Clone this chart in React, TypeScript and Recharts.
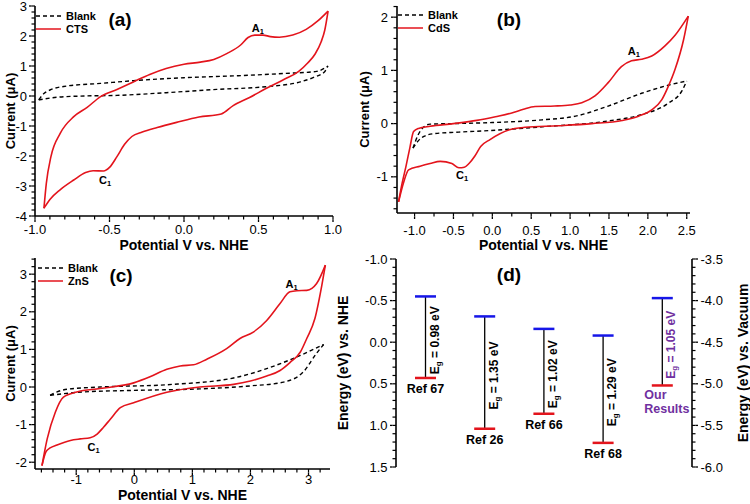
import React from "react";
import { ComposedChart, Line, Bar, XAxis, YAxis, Legend, ReferenceDot } from "recharts";

const FONT = '"Liberation Sans", Arial, Helvetica, sans-serif';
const RED = "#e3141c";
const BLUE = "#1616e8";
const PURPLE = "#7030a0";
const TICK = 3.5; // minor tick length
const MAJOR_EXTRA = 2.5; // majors are this much longer

type Pt = [number, number];

// ---- (a) CTS, potential (V) / current (uA)
const ctsForward: Pt[] = [
  [-0.94, -3.74], [-0.924, -2.91], [-0.893, -2.02], [-0.83, -1.24], [-0.74, -0.69], [-0.65, -0.38],
  [-0.56, -0.02], [-0.45, 0.22], [-0.34, 0.47], [-0.23, 0.72], [-0.12, 0.92], [0.0, 1.06], [0.11, 1.13],
  [0.2, 1.22], [0.29, 1.42], [0.38, 1.7], [0.43, 1.95], [0.475, 2.03], [0.53, 2.03], [0.58, 1.98],
  [0.64, 1.96], [0.73, 2.03], [0.82, 2.22], [0.9, 2.51], [0.967, 2.83],
];
const ctsReverse: Pt[] = [
  [-0.94, -3.74], [-0.9, -3.45], [-0.83, -3.12], [-0.74, -2.8], [-0.66, -2.55], [-0.61, -2.49],
  [-0.54, -2.5], [-0.5, -2.38], [-0.45, -2.02], [-0.4, -1.62], [-0.35, -1.35], [-0.28, -1.2],
  [-0.18, -1.05], [-0.05, -0.88], [0.1, -0.7], [0.25, -0.6], [0.33, -0.32], [0.44, -0.05], [0.55, 0.25],
  [0.67, 0.55], [0.77, 0.82], [0.83, 1.1], [0.88, 1.4], [0.92, 1.8], [0.945, 2.2], [0.967, 2.83],
];
const blankAForward: Pt[] = [
  [-0.975, -0.13], [-0.94, 0.08], [-0.9, 0.2], [-0.79, 0.33], [-0.56, 0.42], [-0.34, 0.51], [0.0, 0.61],
  [0.33, 0.67], [0.67, 0.75], [0.89, 0.82], [0.966, 1.0],
];
const blankAReverse: Pt[] = [
  [-0.975, -0.13], [-0.94, -0.1], [-0.85, -0.04], [-0.67, 0.0], [-0.45, 0.02], [-0.12, 0.11], [0.22, 0.22],
  [0.55, 0.31], [0.78, 0.47], [0.87, 0.62], [0.944, 0.81], [0.966, 1.0],
];

// ---- (b) CdS
const cdsForward: Pt[] = [
  [-1.206, -1.47], [-1.16, -1.12], [-1.11, -0.8], [-1.06, -0.45], [-1.013, -0.15], [-0.95, -0.09],
  [-0.8, -0.05], [-0.5, 0.0], [-0.2, 0.06], [0.04, 0.13], [0.25, 0.2], [0.4, 0.27], [0.55, 0.32],
  [0.8, 0.33], [1.0, 0.35], [1.15, 0.39], [1.32, 0.52], [1.49, 0.77], [1.66, 1.07], [1.79, 1.18],
  [1.92, 1.21], [2.05, 1.27], [2.22, 1.46], [2.35, 1.66], [2.52, 2.02],
];
const cdsReverse: Pt[] = [
  [-1.206, -1.47], [-1.14, -1.1], [-1.077, -0.87], [-0.93, -0.8], [-0.8, -0.75], [-0.67, -0.71],
  [-0.52, -0.75], [-0.43, -0.83], [-0.36, -0.82], [-0.3, -0.75], [-0.22, -0.6], [-0.15, -0.43],
  [-0.03, -0.3], [0.21, -0.12], [0.42, -0.07], [0.85, -0.04], [1.28, 0.0], [1.67, 0.06], [1.88, 0.14],
  [2.05, 0.26], [2.18, 0.45], [2.26, 0.69], [2.35, 1.02], [2.46, 1.58], [2.52, 2.02],
];
const blankBForward: Pt[] = [
  [-1.02, -0.46], [-0.95, -0.2], [-0.88, -0.06], [-0.8, -0.01], [-0.5, 0.0], [0.0, 0.02], [0.64, 0.07],
  [1.07, 0.14], [1.49, 0.33], [1.92, 0.57], [2.26, 0.72], [2.5, 0.8],
];
const blankBReverse: Pt[] = [
  [-1.02, -0.46], [-0.95, -0.32], [-0.88, -0.24], [-0.76, -0.19], [-0.43, -0.16], [-0.03, -0.13],
  [0.64, -0.06], [1.49, 0.05], [1.92, 0.17], [2.26, 0.38], [2.44, 0.62], [2.5, 0.8],
];

// ---- (c) ZnS
const znsForward: Pt[] = [
  [-1.59, -2.09], [-1.5, -1.38], [-1.36, -0.67], [-1.22, -0.27], [-0.99, -0.13], [-0.59, -0.04],
  [-0.01, 0.11], [0.27, 0.27], [0.56, 0.47], [0.79, 0.56], [1.02, 0.59], [1.25, 0.74], [1.59, 1.02],
  [1.82, 1.29], [2.05, 1.46], [2.28, 1.77], [2.51, 2.22], [2.68, 2.53], [2.8, 2.56], [2.97, 2.57],
  [3.14, 2.75], [3.29, 3.24],
];
const znsReverse: Pt[] = [
  [-1.59, -2.09], [-1.52, -1.72], [-1.45, -1.62], [-1.33, -1.54], [-1.1, -1.42], [-0.93, -1.38],
  [-0.76, -1.35], [-0.64, -1.25], [-0.53, -1.07], [-0.41, -0.85], [-0.24, -0.55], [-0.01, -0.42],
  [0.56, -0.14], [1.13, 0.0], [1.71, 0.07], [2.0, 0.16], [2.28, 0.29], [2.51, 0.44], [2.68, 0.65],
  [2.86, 0.93], [2.97, 1.29], [3.11, 1.82], [3.23, 2.71], [3.29, 3.24],
];
const blankCForward: Pt[] = [
  [-1.45, -0.22], [-1.33, -0.13], [-1.16, -0.06], [-0.59, 0.0], [0.56, 0.06], [1.71, 0.24], [2.28, 0.49],
  [2.86, 0.84], [3.26, 1.13],
];
const blankCReverse: Pt[] = [
  [-1.45, -0.22], [-0.87, -0.13], [-0.01, -0.09], [1.13, -0.05], [2.0, 0.03], [2.57, 0.13], [2.91, 0.4],
  [3.14, 0.9], [3.26, 1.13],
];

// ---- tick labels
const aXTicks = [-1, -0.5, 0, 0.5, 1];
const aYTicks = [-4, -3, -2, -1, 0, 1, 2, 3];
const bXTicks = [-1, -0.5, 0, 0.5, 1, 1.5, 2, 2.5];
const bYTicks = [-1, 0, 1, 2];
const cXTicks = [-1, 0, 1, 2, 3];
const cYTicks = [-2, -1, 0, 1, 2, 3];
const dNheTicks = [-1, -0.5, 0, 0.5, 1, 1.5];
const dVacTicks = [-6, -5.5, -5, -4.5, -4, -3.5];

// ---- (d) band positions vs NHE
const refNames = ["Ref 67", "Ref 26", "Ref 66", "Ref 68", "Our Results"];
const cbNhe = [-0.55, -0.31, -0.16, -0.08, -0.53];
const vbNhe = [0.43, 1.04, 0.86, 1.21, 0.52];
const gapLabels = ["0.98", "1.35", "1.02", "1.29", "1.05"];

const bandRows = refNames.map((name, i) => ({
  name,
  cb: cbNhe[i],
  vb: vbNhe[i],
  eg: gapLabels[i],
  ours: i === refNames.length - 1,
}));

const rows = (pts: Pt[]) => pts.map(([x, y]) => ({ x, y }));

function withMinors(majors: number[], domain: [number, number], step: number) {
  const out = [...majors];
  const start = Math.ceil(domain[0] / step - 1e-9) * step;
  for (let v = start; v <= domain[1] + 1e-9; v += step) {
    const r = +v.toFixed(4);
    if (!out.some((m) => Math.abs(m - r) < 1e-6)) out.push(r);
  }
  return out.sort((p, q) => p - q);
}

const oneDec = (v: number) => v.toFixed(1);
const whole = (v: number) => String(v);

// tick props arrive at the end of the built-in (minor-length) tick line;
// majors get an extension plus their label
function tickFn(side: "bottom" | "left" | "right", majors: number[], fmt: (v: number) => string, gap: number) {
  return (props: any) => {
    const x = Number(props.x);
    const y = Number(props.y);
    const v = Number(props.payload.value);
    const major = majors.some((m) => Math.abs(m - v) < 1e-6);
    if (!major) return <g />;
    const label = fmt(v);
    if (side === "bottom") {
      return (
        <g>
          <line x1={x} y1={y} x2={x} y2={y + MAJOR_EXTRA} stroke="#000" strokeWidth={1.3} />
          <text x={x} y={y - TICK + gap} textAnchor="middle" dominantBaseline="central" fontSize={13} fontFamily={FONT} fill="#000">
            {label}
          </text>
        </g>
      );
    }
    const dir = side === "left" ? -1 : 1;
    return (
      <g>
        <line x1={x} y1={y} x2={x + dir * MAJOR_EXTRA} y2={y} stroke="#000" strokeWidth={1.3} />
        <text x={x - dir * TICK + dir * gap} y={y} textAnchor={side === "left" ? "end" : "start"} dominantBaseline="central" fontSize={13} fontFamily={FONT} fill="#000">
          {label}
        </text>
      </g>
    );
  };
}

const xTitle = (text: string, gap: number) => (p: any) => {
  const vb = p.viewBox;
  return (
    <text x={vb.x + vb.width / 2} y={vb.y + gap} textAnchor="middle" dominantBaseline="central" fontSize={14} fontWeight={700} fontFamily={FONT} fill="#000">
      {text}
    </text>
  );
};

const yTitle = (text: string, dx: number, size = 13) => (p: any) => {
  const vb = p.viewBox;
  const cx = vb.x + dx;
  const cy = vb.y + vb.height / 2;
  return (
    <text transform={`translate(${cx},${cy}) rotate(-90)`} textAnchor="middle" dominantBaseline="central" fontSize={size} fontWeight={700} fontFamily={FONT} fill="#000">
      {text}
    </text>
  );
};

const peakShape = (main: string, sub: string) => (p: any) => (
  <text x={p.cx} y={p.cy} textAnchor="middle" dominantBaseline="central" fontSize={11} fontWeight={700} fontFamily={FONT} fill="#000">
    {main}
    <tspan fontSize={7.5} dy={3}>{sub}</tspan>
  </text>
);

const renderLegend = (props: any) => {
  const items = (props.payload || []).filter((it: any) => it.type !== "none");
  return (
    <div style={{ fontFamily: FONT, fontSize: 11, fontWeight: 700, lineHeight: "12.5px", color: "#000" }}>
      {items.map((it: any) => (
        <div key={it.value} style={{ display: "flex", alignItems: "center", height: 12.5 }}>
          <svg width={25} height={12}>
            <line x1={0} y1={6} x2={25} y2={6} stroke={it.color} strokeWidth={1.5} strokeDasharray={it.payload?.strokeDasharray} />
          </svg>
          <span style={{ marginLeft: 5 }}>{it.value}</span>
        </div>
      ))}
    </div>
  );
};

const tickLineStyle = { stroke: "#000", strokeWidth: 1.2 };
const frameStyle = { stroke: "#000", strokeWidth: 1.6 };

interface Note { x: number; y: number; main: string; sub: string }

interface CvProps {
  left: number; top: number; width: number; height: number;
  margin: { top: number; right: number; bottom: number; left: number };
  yAxisWidth: number; xAxisHeight: number;
  xDomain: [number, number]; yDomain: [number, number];
  xMajor: number[]; xStep: number; yMajor: number[]; yStep: number;
  xFmt: (v: number) => string; yFmt: (v: number) => string;
  blank: [Pt[], Pt[]]; sample: [Pt[], Pt[]]; sampleName: string;
  notes: Note[]; legendAt: { left: number; top: number };
  xTickGap: number; xTitleGap: number; yTickGap: number; yTitleX: number;
}

function CvPanel(p: CvProps) {
  return (
    <div style={{ position: "absolute", left: p.left, top: p.top }}>
      <ComposedChart width={p.width} height={p.height} margin={p.margin}>
        <XAxis
          dataKey="x" type="number" domain={p.xDomain} allowDataOverflow
          ticks={withMinors(p.xMajor, p.xDomain, p.xStep)} interval={0}
          tickSize={TICK} tickMargin={0} tickLine={tickLineStyle}
          tick={tickFn("bottom", p.xMajor, p.xFmt, p.xTickGap)}
          axisLine={frameStyle}
          height={p.xAxisHeight}
          label={xTitle("Potential V vs. NHE", p.xTitleGap)}
        />
        <XAxis xAxisId="frame" orientation="top" type="number" domain={p.xDomain} allowDataOverflow height={0} tick={false} tickLine={false} axisLine={frameStyle} />
        <YAxis
          type="number" domain={p.yDomain} allowDataOverflow
          ticks={withMinors(p.yMajor, p.yDomain, p.yStep)} interval={0}
          tickSize={TICK} tickMargin={0} tickLine={tickLineStyle}
          tick={tickFn("left", p.yMajor, p.yFmt, p.yTickGap)}
          axisLine={frameStyle}
          width={p.yAxisWidth}
          label={yTitle("Current (\u03bcA)", p.yTitleX)}
        />
        <YAxis yAxisId="frame" orientation="right" type="number" domain={p.yDomain} allowDataOverflow width={0} tick={false} tickLine={false} axisLine={frameStyle} />
        <Line data={rows(p.blank[0])} dataKey="y" name="Blank" type="monotone" stroke="#000" strokeWidth={1.4} strokeDasharray="4 3" dot={false} activeDot={false} isAnimationActive={false} />
        <Line data={rows(p.blank[1])} dataKey="y" name="Blank (return)" legendType="none" type="monotone" stroke="#000" strokeWidth={1.4} strokeDasharray="4 3" dot={false} activeDot={false} isAnimationActive={false} />
        <Line data={rows(p.sample[0])} dataKey="y" name={p.sampleName} type="monotone" stroke={RED} strokeWidth={1.6} dot={false} activeDot={false} isAnimationActive={false} />
        <Line data={rows(p.sample[1])} dataKey="y" name={`${p.sampleName} (return)`} legendType="none" type="monotone" stroke={RED} strokeWidth={1.6} dot={false} activeDot={false} isAnimationActive={false} />
        {p.notes.map((n) => (
          <ReferenceDot key={n.main + n.x} x={n.x} y={n.y} r={0} shape={peakShape(n.main, n.sub)} />
        ))}
        <Legend content={renderLegend} layout="vertical" align="center" verticalAlign="middle" wrapperStyle={{ left: p.legendAt.left, top: p.legendAt.top, width: "auto", height: "auto" }} />
      </ComposedChart>
    </div>
  );
}

const BandShape = (props: any) => {
  const { x, y, width, height, payload } = props;
  if (x == null || y == null) return null;
  const cx = x + width / 2;
  const top = Math.min(y, y + height);
  const bot = Math.max(y, y + height);
  const mid = (top + bot) / 2;
  const tone = payload.ours ? PURPLE : "#000";
  return (
    <g fontFamily={FONT} fontWeight={700}>
      <line x1={cx} y1={top} x2={cx} y2={bot} stroke="#000" strokeWidth={1.3} />
      <line x1={x} y1={top} x2={x + width} y2={top} stroke={BLUE} strokeWidth={2.5} />
      <line x1={x} y1={bot} x2={x + width} y2={bot} stroke={RED} strokeWidth={2.5} />
      <text transform={`translate(${cx + 9},${mid + 3}) rotate(-90)`} textAnchor="middle" dominantBaseline="central" fontSize={12} fill={tone}>
        E<tspan fontSize={8} dy={3}>g</tspan>
        <tspan dy={-3}>{` = ${payload.eg} eV`}</tspan>
      </text>
      {payload.ours ? (
        <text fontSize={12.5} fill={PURPLE} dominantBaseline="central">
          <tspan x={cx - 18} y={bot + 10}>Our</tspan>
          <tspan x={cx - 18} y={bot + 24}>Results</tspan>
        </text>
      ) : (
        <text x={cx} y={bot + 11} textAnchor="middle" dominantBaseline="central" fontSize={12.5} fill="#000">
          {payload.name}
        </text>
      )}
    </g>
  );
};

function BandPanel() {
  return (
    <div style={{ position: "absolute", left: 330, top: 252 }}>
      <ComposedChart width={420} height={252} data={bandRows} margin={{ top: 7, right: 0, bottom: 37, left: 0 }}>
        <XAxis dataKey="name" height={0} tick={false} tickLine={false} axisLine={frameStyle} />
        <XAxis xAxisId="frame" dataKey="name" orientation="top" height={0} tick={false} tickLine={false} axisLine={frameStyle} />
        <YAxis
          yAxisId="nhe" type="number" domain={[-1, 1.5]} reversed allowDataOverflow
          ticks={withMinors(dNheTicks, [-1, 1.5], 0.1)} interval={0}
          tickSize={TICK} tickMargin={0} tickLine={tickLineStyle}
          tick={tickFn("left", dNheTicks, oneDec, 8.5)}
          axisLine={frameStyle}
          width={66}
          label={yTitle("Energy (eV) vs. NHE", 13, 14)}
        />
        <YAxis
          yAxisId="vac" orientation="right" type="number" domain={[-6, -3.5]} allowDataOverflow
          ticks={withMinors(dVacTicks, [-6, -3.5], 0.1)} interval={0}
          tickSize={TICK} tickMargin={0} tickLine={tickLineStyle}
          tick={tickFn("right", dVacTicks, oneDec, 8.5)}
          axisLine={frameStyle}
          width={58}
          label={yTitle("Energy (eV) vs. Vacuum", 51, 14)}
        />
        <Bar yAxisId="nhe" dataKey={(d: any) => [d.cb, d.vb]} barSize={21} shape={BandShape} isAnimationActive={false} />
      </ComposedChart>
    </div>
  );
}

const tagStyle = (left: number, top: number): React.CSSProperties => ({
  position: "absolute", left, top, transform: "translate(-50%, -50%)",
  fontFamily: FONT, fontSize: 19, fontWeight: 700, color: "#000", lineHeight: 1,
});

export default function App() {
  return (
    <div style={{ position: "absolute", left: 0, top: 0, width: 750, height: 504, background: "#fff", overflow: "hidden" }}>
      <CvPanel
        left={0} top={0} width={375} height={252}
        margin={{ top: 6, right: 42, bottom: 0, left: 0 }}
        yAxisWidth={35} xAxisHeight={36}
        xDomain={[-1, 1]} yDomain={[-4, 3]}
        xMajor={aXTicks} xStep={0.1} yMajor={aYTicks} yStep={0.2}
        xFmt={oneDec} yFmt={whole}
        blank={[blankAForward, blankAReverse]} sample={[ctsForward, ctsReverse]} sampleName="CTS"
        notes={[{ x: 0.496, y: 2.26, main: "A", sub: "1" }, { x: -0.53, y: -2.8, main: "C", sub: "1" }]}
        legendAt={{ left: 36, top: 10 }}
        xTickGap={13} xTitleGap={28.5} yTickGap={8} yTitleX={10}
      />
      <CvPanel
        left={340} top={0} width={410} height={252}
        margin={{ top: 6, right: 60, bottom: 0, left: 0 }}
        yAxisWidth={57} xAxisHeight={39}
        xDomain={[-1.226, 2.542]} yDomain={[-1.68, 2.21]}
        xMajor={bXTicks} xStep={0.25} yMajor={bYTicks} yStep={0.2}
        xFmt={oneDec} yFmt={whole}
        blank={[blankBForward, blankBReverse]} sample={[cdsForward, cdsReverse]} sampleName="CdS"
        notes={[{ x: 1.82, y: 1.36, main: "A", sub: "1" }, { x: -0.39, y: -0.96, main: "C", sub: "1" }]}
        legendAt={{ left: 58, top: 9 }}
        xTickGap={17} xTitleGap={32} yTickGap={9} yTitleX={24}
      />
      <CvPanel
        left={0} top={252} width={340} height={252}
        margin={{ top: 6, right: 10, bottom: 0, left: 0 }}
        yAxisWidth={35} xAxisHeight={35}
        xDomain={[-1.71, 3.37]} yDomain={[-2.18, 3.43]}
        xMajor={cXTicks} xStep={0.2} yMajor={cYTicks} yStep={0.2}
        xFmt={whole} yFmt={whole}
        blank={[blankCForward, blankCReverse]} sample={[znsForward, znsReverse]} sampleName="ZnS"
        notes={[{ x: 2.71, y: 2.75, main: "A", sub: "1" }, { x: -0.7, y: -1.6, main: "C", sub: "1" }]}
        legendAt={{ left: 38, top: 10 }}
        xTickGap={10} xTitleGap={26} yTickGap={8} yTitleX={10}
      />
      <BandPanel />
      <div style={tagStyle(120, 19)}>(a)</div>
      <div style={tagStyle(509, 19)}>(b)</div>
      <div style={tagStyle(121, 275)}>(c)</div>
      <div style={tagStyle(509, 274)}>(d)</div>
    </div>
  );
}
